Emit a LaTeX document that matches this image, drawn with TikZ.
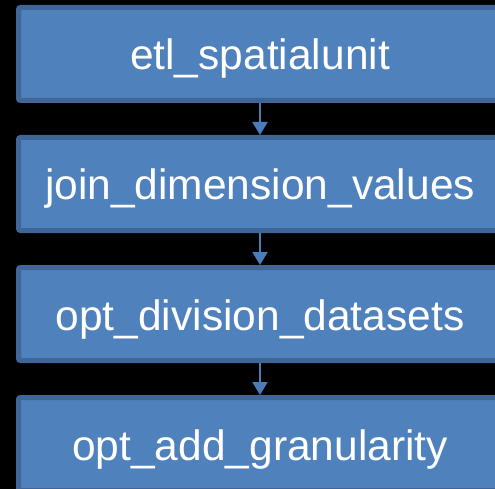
\documentclass[tikz,border=0pt]{standalone}
\usepackage{fontspec}
\setmainfont{Liberation Sans}
\usetikzlibrary{positioning,arrows.meta}

\definecolor{boxfill}{HTML}{4F81BD}
\definecolor{boxrim}{HTML}{3F6697}
\definecolor{arrowcol}{HTML}{4A7EBB}

\tikzset{
    stepbox/.style={draw=boxrim, fill=boxfill, line width=5pt, rounded corners=2pt,
        minimum width=483pt, minimum height=93pt, inner sep=0pt,
        text height=32pt, text depth=0pt,
        text=white, font=\fontsize{42.5}{50}\selectfont},
    flow/.style={draw=arrowcol, line width=2pt, -{Triangle[width=15pt,length=13pt]}}
}

\begin{document}
\begin{tikzpicture}[x=1pt,y=-1pt]
        %%%%%%%%%% Sfondo %%%%%%%%%%
        \fill[black] (0,0) rectangle (495,489);
        \useasboundingbox (0,0) rectangle (495,489);

        %%%%%%%%%% Nodi %%%%%%%%%%
        \begin{scope}
        \clip (0,0) rectangle (495,489);
        \node[stepbox] (etl) at (260,54) {etl\_spatialunit};
        \node[stepbox, below=32pt of etl] (join) {join\_dimension\_values};
        \node[stepbox, below=32pt of join] (division) {opt\_division\_datasets};
        \node[stepbox, below=32pt of division] (granularity) {opt\_add\_granularity};

        %%%%%%%%% Frecce %%%%%%%%%
        \draw[flow] (etl) -- (join);
        \draw[flow] (join) -- (division);
        \draw[flow] (division) -- (granularity);
        \end{scope}
    \end{tikzpicture}
\end{document}
